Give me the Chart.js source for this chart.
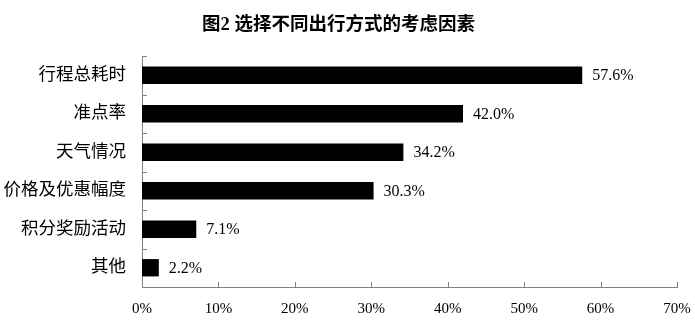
<!DOCTYPE html>
<html>
<head>
<meta charset="utf-8">
<script src="https://cdn.jsdelivr.net/npm/chart.js@4.4.0/dist/chart.umd.min.js"></script>
<style>
  html, body { margin: 0; padding: 0; background: #fff; }
  #wrap { width: 695px; height: 331px; }
</style>
</head>
<body>
<div id="wrap"><canvas id="myChart"></canvas></div>
<script>
// chart data
const categories = ['行程总耗时', '准点率', '天气情况', '价格及优惠幅度', '积分奖励活动', '其他'];
const values = [57.6, 42.0, 34.2, 30.3, 7.1, 2.2];
const xMin = 0, xMax = 70, xStep = 10;

const FONT = '"Liberation Serif", "Noto Sans CJK SC", serif';
const AXIS_COLOR = '#808080';

// small tick marks pointing into the plot, like the original
const innerTicks = {
  id: 'innerTicks',
  afterDraw(chart) {
    const { ctx, scales: { x, y } } = chart;
    ctx.save();
    ctx.strokeStyle = AXIS_COLOR;
    ctx.lineWidth = 1;
    ctx.beginPath();
    const n = categories.length;
    for (let i = 0; i <= n; i++) {
      const py = Math.round(y.top + i * (y.height / n)) + 0.5;
      ctx.moveTo(x.left, py);
      ctx.lineTo(x.left + 5, py);
    }
    for (let v = xMin; v <= xMax; v += xStep) {
      const px = Math.round(x.getPixelForValue(v)) + 0.5;
      ctx.moveTo(px, y.bottom);
      ctx.lineTo(px, y.bottom - 5);
    }
    ctx.stroke();
    ctx.restore();
  }
};

// value labels at the end of each bar
const barLabels = {
  id: 'barLabels',
  afterDatasetsDraw(chart) {
    const { ctx } = chart;
    const meta = chart.getDatasetMeta(0);
    ctx.save();
    ctx.fillStyle = '#000';
    ctx.font = '16px ' + FONT;
    ctx.textAlign = 'left';
    ctx.textBaseline = 'middle';
    meta.data.forEach((bar, i) => {
      ctx.fillText(values[i].toFixed(1) + '%', bar.x + 10, bar.y + 1);
    });
    ctx.restore();
  }
};

new Chart(document.getElementById('myChart'), {
  type: 'bar',
  data: {
    labels: categories,
    datasets: [{
      data: values,
      backgroundColor: '#000',
      borderWidth: 0,
      barPercentage: 0.45,
      categoryPercentage: 1.0
    }]
  },
  options: {
    indexAxis: 'y',
    responsive: true,
    maintainAspectRatio: false,
    animation: false,
    layout: { padding: { left: 0, right: 18, top: 0, bottom: 0 } },
    plugins: {
      legend: { display: false },
      tooltip: { enabled: false },
      title: {
        display: true,
        text: '图2 选择不同出行方式的考虑因素',
        color: '#000',
        font: { family: FONT, size: 18.5, weight: 'bold' },
        padding: { top: 14, bottom: 19.8 }
      }
    },
    scales: {
      x: {
        min: xMin,
        max: xMax,
        grid: { display: false, drawTicks: false },
        border: { display: true, color: AXIS_COLOR, width: 1 },
        ticks: {
          stepSize: xStep,
          color: '#000',
          padding: 13,
          font: { family: FONT, size: 15 },
          callback: v => v + '%'
        },
        afterFit(scale) {
          scale.height = 44;
          scale.paddingLeft = 0;
          scale.paddingRight = 0;
        }
      },
      y: {
        grid: { display: false, drawTicks: false },
        border: { display: true, color: AXIS_COLOR, width: 1 },
        ticks: {
          color: '#000',
          padding: 16,
          font: { family: FONT, size: 17.5 }
        },
        afterFit(scale) { scale.width = 142; }
      }
    }
  },
  plugins: [innerTicks, barLabels]
});
</script>
</body>
</html>
